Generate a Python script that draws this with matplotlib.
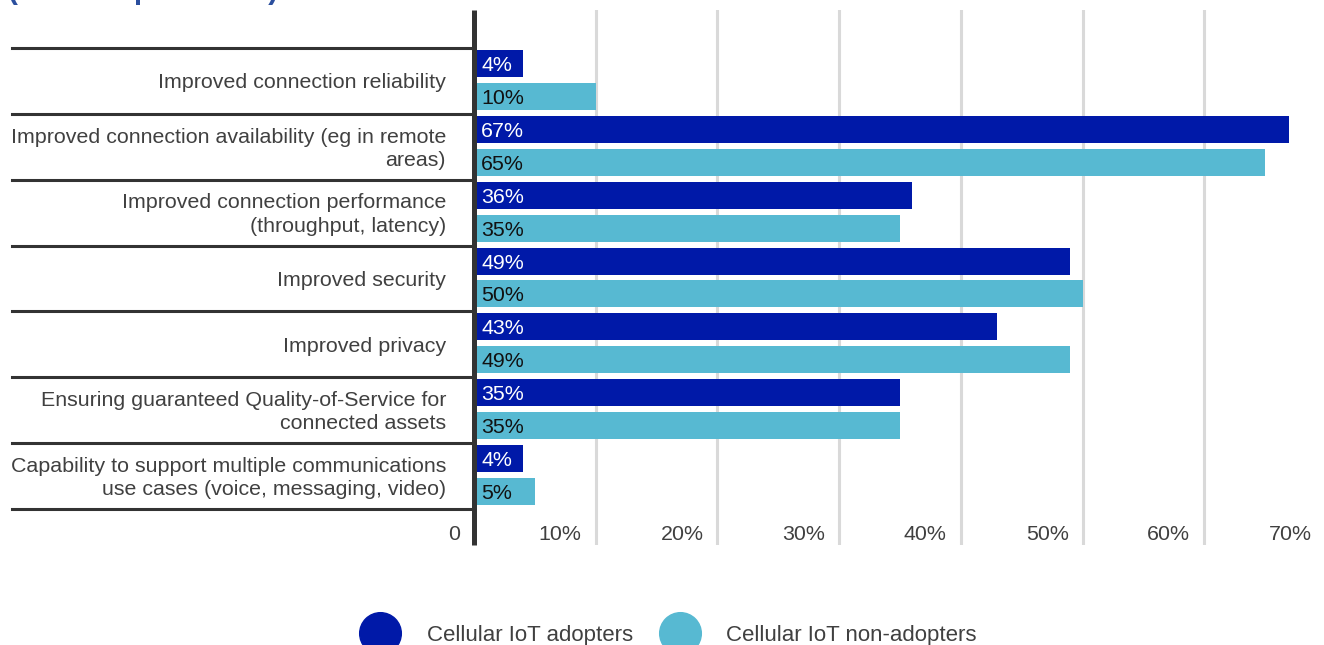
import matplotlib.pyplot as plt
from matplotlib.lines import Line2D
from matplotlib.transforms import ScaledTranslation, blended_transform_factory

plt.rcParams['font.family'] = ['Liberation Sans', 'DejaVu Sans']

categories = [
    "Improved connection reliability",
    "Improved connection availability (eg in remote\nareas)",
    "Improved connection performance\n(throughput, latency)",
    "Improved security",
    "Improved privacy",
    "Ensuring guaranteed Quality-of-Service for\nconnected assets",
    "Capability to support multiple communications\nuse cases (voice, messaging, video)",
]
adopters = [4, 67, 36, 49, 43, 35, 4]
non_adopters = [10, 65, 35, 50, 49, 35, 5]
x_ticks = [0, 10, 20, 30, 40, 50, 60, 70]
x_ticklabels = ["0", "10%", "20%", "30%", "40%", "50%", "60%", "70%"]
series_names = ["Cellular IoT adopters", "Cellular IoT non-adopters"]

dark_blue = '#0019A8'
light_blue = '#57B9D2'
text_grey = '#404040'
line_grey = '#333333'
fs = 15.4

W, H = 1324, 645
fig = plt.figure(figsize=(W / 100, H / 100), dpi=100)
ax = fig.add_axes([474 / W, 100 / H, 852 / W, 535 / H])

rows = list(range(len(categories)))
bar_h = 0.41
ax.barh([r - 0.265 for r in rows], adopters, height=bar_h, color=dark_blue, zorder=2)
ax.barh([r + 0.235 for r in rows], non_adopters, height=bar_h, color=light_blue, zorder=2)

ax.set_xlim(0, 70)
ax.set_ylim(7.047, -1.077)

# vertical gridlines
for t in x_ticks[1:]:
    ax.axvline(t, color='#d9d9d9', lw=2.2, zorder=1)

for s in ['top', 'right', 'bottom']:
    ax.spines[s].set_visible(False)
ax.spines['left'].set_color(line_grey)
ax.spines['left'].set_linewidth(3.6)
ax.spines['left'].set_capstyle('butt')
ax.spines['left'].set_zorder(3)
ax.set_xticks([])
ax.set_yticks([])

# value labels inside the bars
shift = ScaledTranslation(7 / 100, -2 / 100, fig.dpi_scale_trans)
for r, a, n in zip(rows, adopters, non_adopters):
    ax.text(0, r - 0.265, f"{a}%", color='white', fontsize=fs, va='center',
            ha='left', transform=ax.transData + shift, zorder=4)
    ax.text(0, r + 0.235, f"{n}%", color='#111111', fontsize=fs, va='center',
            ha='left', transform=ax.transData + shift, zorder=4)

# x tick labels sit left of their gridline
tick_shift = ScaledTranslation(-14 / 100, -2 / 100, fig.dpi_scale_trans)
for t, lab in zip(x_ticks, x_ticklabels):
    ax.text(t, 6.85, lab, color=text_grey, fontsize=fs, ha='right', va='center',
            transform=ax.transData + tick_shift)

# category labels and row separators on the left
sep = blended_transform_factory(fig.transFigure, ax.transData)
for b in [r - 0.5 for r in rows] + [rows[-1] + 0.5]:
    ax.plot([12 / W, 474 / W], [b, b], color=line_grey, lw=2.2,
            transform=sep, clip_on=False)
lab_shift = ScaledTranslation(0, -2 / 100, fig.dpi_scale_trans)
for r, cat in zip(rows, categories):
    ax.text(446 / W, r, cat, color=text_grey, fontsize=fs, ha='right',
            va='center', linespacing=1.3, transform=sep + lab_shift)

# title, mostly above the canvas
fig.text(8 / W, 1 + 1 / H, "(% of respondents)", color='#2B4F9E', fontsize=21.5,
         fontweight='bold', ha='left', va='baseline')

handles = [Line2D([], [], marker='o', ls='none', markersize=30, color=c)
           for c in (dark_blue, light_blue)]
fig.legend(handles, series_names, loc='center', bbox_to_anchor=(0.504, 10 / H),
           ncol=2, frameon=False, fontsize=16, handlelength=2, handletextpad=1.1,
           columnspacing=1.1, labelcolor=text_grey)

fig.savefig('out.png', dpi=100)
